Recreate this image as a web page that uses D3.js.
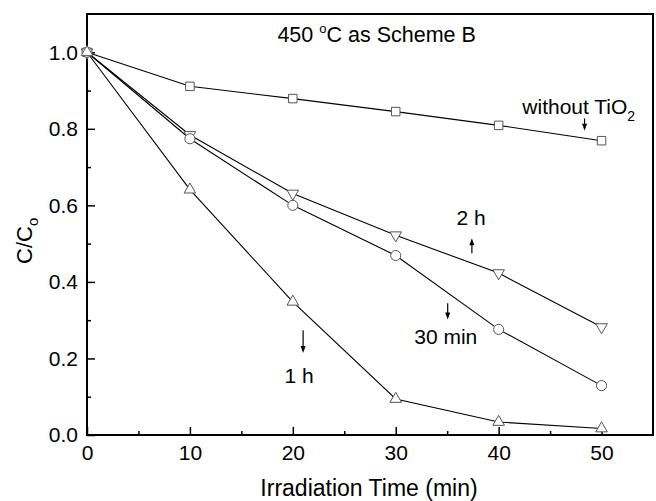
<!DOCTYPE html>
<html>
<head>
<meta charset="utf-8">
<script src="https://cdn.jsdelivr.net/npm/d3@7"></script>
<style>
  body { margin: 0; background: #fff; }
  text { font-family: "Liberation Sans", Arial, sans-serif; fill: #000; }
</style>
</head>
<body>
<div id="chart"></div>
<script>
// data
const times = [0, 10, 20, 30, 40, 50];
const withoutTiO2 = [1.0, 0.911, 0.879, 0.845, 0.809, 0.769];
const twoHours = [1.0, 0.784, 0.631, 0.522, 0.423, 0.282];
const thirtyMin = [1.0, 0.774, 0.600, 0.469, 0.276, 0.129];
const oneHour = [1.0, 0.641, 0.348, 0.094, 0.034, 0.017];

const xTicks = [0, 10, 20, 30, 40, 50];
const yTicks = [0.0, 0.2, 0.4, 0.6, 0.8, 1.0];

let width = 656;
let height = 501;
let margin = {top: 14, right: 3, bottom: 66, left: 87};

let svg = d3.select("#chart")
  .append("svg")
  .attr("width", width)
  .attr("height", height);

let x = d3.scaleLinear().domain([0, 55]).range([margin.left, width - margin.right]);
let y = d3.scaleLinear().domain([0, 1.1]).range([height - margin.bottom, margin.top]);

// frame
svg.append("rect")
  .attr("x", x(0)).attr("y", y(1.1))
  .attr("width", x(55) - x(0)).attr("height", y(0) - y(1.1))
  .attr("fill", "none").attr("stroke", "#000").attr("stroke-width", 2);

// axes, ticks pointing inwards
let xMinor = d3.axisBottom(x).tickValues(d3.range(5, 55, 10)).tickSize(-4).tickFormat("");
let xMajor = d3.axisBottom(x).tickValues(xTicks).tickSize(-8).tickPadding(10).tickFormat(d3.format("d"));
let yMinor = d3.axisLeft(y).tickValues(d3.range(0.1, 1.1, 0.2)).tickSize(-4).tickFormat("");
let yMajor = d3.axisLeft(y).tickValues(yTicks).tickSize(-8).tickPadding(9).tickFormat(d3.format(".1f"));

[xMinor, xMajor].forEach(a => {
  svg.append("g").attr("transform", "translate(0," + y(0) + ")").call(a);
});
[yMinor, yMajor].forEach(a => {
  svg.append("g").attr("transform", "translate(" + x(0) + ",0)").call(a);
});
svg.selectAll(".domain").remove();
svg.selectAll(".tick line").attr("stroke", "#000").attr("stroke-width", 1.5);
svg.selectAll(".tick text").style("font-size", "21px").attr("fill", "#000");

// axis titles
svg.append("text")
  .attr("x", (x(0) + x(55)) / 2 - 1)
  .attr("y", 496)
  .attr("text-anchor", "middle")
  .style("font-size", "23px")
  .text("Irradiation Time (min)");

let yl = svg.append("text")
  .attr("transform", "translate(32,264) rotate(-90)")
  .style("font-size", "22px");
yl.append("tspan").text("C/C");
yl.append("tspan").attr("dy", 6).style("font-size", "15px").text("o");

// series
let series = [
  {vals: withoutTiO2, sym: d3.symbolSquare, size: 72, rot: 0},
  {vals: twoHours, sym: d3.symbolTriangle, size: 58, rot: 180},
  {vals: thirtyMin, sym: d3.symbolCircle, size: 80, rot: 0},
  {vals: oneHour, sym: d3.symbolTriangle, size: 58, rot: 0}
];

let line = d3.line()
  .x((d, i) => x(times[i]))
  .y(d => y(d));

series.forEach(s => {
  svg.append("path")
    .attr("d", line(s.vals))
    .attr("fill", "none")
    .attr("stroke", "#000")
    .attr("stroke-width", 1.1);
});

series.forEach(s => {
  svg.append("g")
    .selectAll("path")
    .data(s.vals)
    .enter()
    .append("path")
      .attr("d", d3.symbol().type(s.sym).size(s.size))
      .attr("transform", (d, i) => "translate(" + x(times[i]) + "," + y(d) + ") rotate(" + s.rot + ")")
      .attr("fill", "#fff")
      .attr("stroke", "#555")
      .attr("stroke-width", 1);
});

// annotations (data coordinates)
let title = svg.append("text")
  .attr("x", x(18.5)).attr("y", y(1.027))
  .style("font-size", "21.5px");
title.append("tspan").text("450 ");
title.append("tspan").attr("dy", -9).style("font-size", "13px").text("o");
title.append("tspan").attr("dy", 9).text("C as Scheme B");

let w = svg.append("text")
  .attr("x", x(42.3)).attr("y", y(0.840))
  .style("font-size", "21px");
w.append("tspan").text("without TiO");
w.append("tspan").attr("dy", 7).style("font-size", "14px").text("2");

let labels = [
  {t: "2 h", x: 35.9, y: 0.548},
  {t: "30 min", x: 31.8, y: 0.237},
  {t: "1 h", x: 19.2, y: 0.136}
];
labels.forEach(l => {
  svg.append("text")
    .attr("x", x(l.x)).attr("y", y(l.y))
    .style("font-size", "21px")
    .text(l.t);
});

// little arrows: from tail to tip
let arrows = [
  {x: 48.35, from: 0.827, to: 0.795},
  {x: 37.4, from: 0.475, to: 0.514},
  {x: 35.05, from: 0.344, to: 0.302},
  {x: 21.0, from: 0.274, to: 0.214}
];
arrows.forEach(a => {
  let px = x(a.x), y1 = y(a.from), y2 = y(a.to);
  let dir = y2 > y1 ? 1 : -1;
  svg.append("line")
    .attr("x1", px).attr("x2", px)
    .attr("y1", y1).attr("y2", y2 - dir * 5)
    .attr("stroke", "#000").attr("stroke-width", 1.2);
  svg.append("path")
    .attr("d", "M" + (px - 2.5) + "," + (y2 - dir * 7) + " L" + (px + 2.5) + "," + (y2 - dir * 7) + " L" + px + "," + y2 + "Z")
    .attr("fill", "#000");
});
</script>
</body>
</html>
